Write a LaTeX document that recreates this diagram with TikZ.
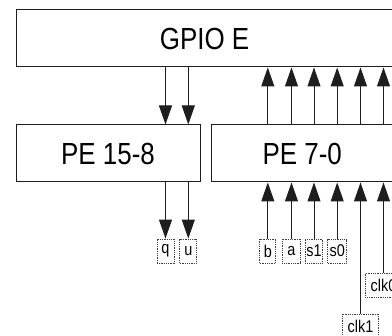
\documentclass[tikz,border=0pt]{standalone}
\usepackage{fontspec}
\setmainfont{Liberation Sans}[FakeStretch=0.85]
\definecolor{LineGray}{RGB}{30,30,30}
\definecolor{DotGray}{RGB}{60,60,60}
\usepackage{tikz}
\usetikzlibrary{positioning, arrows.meta}

\begin{document}
\begin{tikzpicture}[x=1pt, y=-1pt,
    block/.style={draw=LineGray, line width=1pt, rectangle, minimum height=57pt, inner sep=0pt, text depth=0pt, font=\fontsize{30.5}{36}\selectfont},
    sigbox/.style={draw=DotGray, line width=0.9pt, dash pattern=on 1pt off 0.8pt, rectangle, minimum height=24pt, minimum width=17pt, inner xsep=1pt, inner ysep=0pt, font=\fontsize{17}{20}\selectfont},
    clkbox/.style={sigbox, minimum width=36.5pt},
    sig/.style={-{Triangle[length=19pt, width=13pt]}, line width=1pt, LineGray}]
          \useasboundingbox (0,0) rectangle (392,336);
          \clip (0,0) rectangle (392,336);
          \node[block, minimum width=377pt] (gpio) at (204.5,38.5) {GPIO E};
          \node[block, minimum width=184pt] (pe15) at (108,153.5) {PE 15-8};
          \node[block, minimum width=181.5pt] (pe7) at (302.25,153.5) {PE 7-0};
          \node[sigbox] (q) at (165.5,251) {q};
          \node[sigbox] (u) at (188.3,251) {u};
          \node[sigbox, minimum width=16pt] (b) at (267.8,251) {b};
          \node[sigbox, minimum width=18.5pt] (a) at (291.5,251) {a};
          \node[sigbox] (s1) at (314,251) {s1};
          \node[sigbox, minimum width=19pt] (s0) at (337.2,251) {s0};
          \node[clkbox] (clk1) at (360.5,326) {clk1};
          \node[clkbox] (clk0) at (383.5,285.5) {clk0};
          \foreach \s in {q,u} {
            \draw[sig] (\s |- gpio.south) -- (\s |- pe15.north);
            \draw[sig] (\s |- pe15.south) -- (\s.north);
          }
          \foreach \s in {b,a,s1,s0,clk1,clk0} {
            \draw[sig] (\s |- pe7.north) -- (\s |- gpio.south);
            \draw[sig] (\s.north) -- (\s |- pe7.south);
          }
        \end{tikzpicture}
\end{document}
